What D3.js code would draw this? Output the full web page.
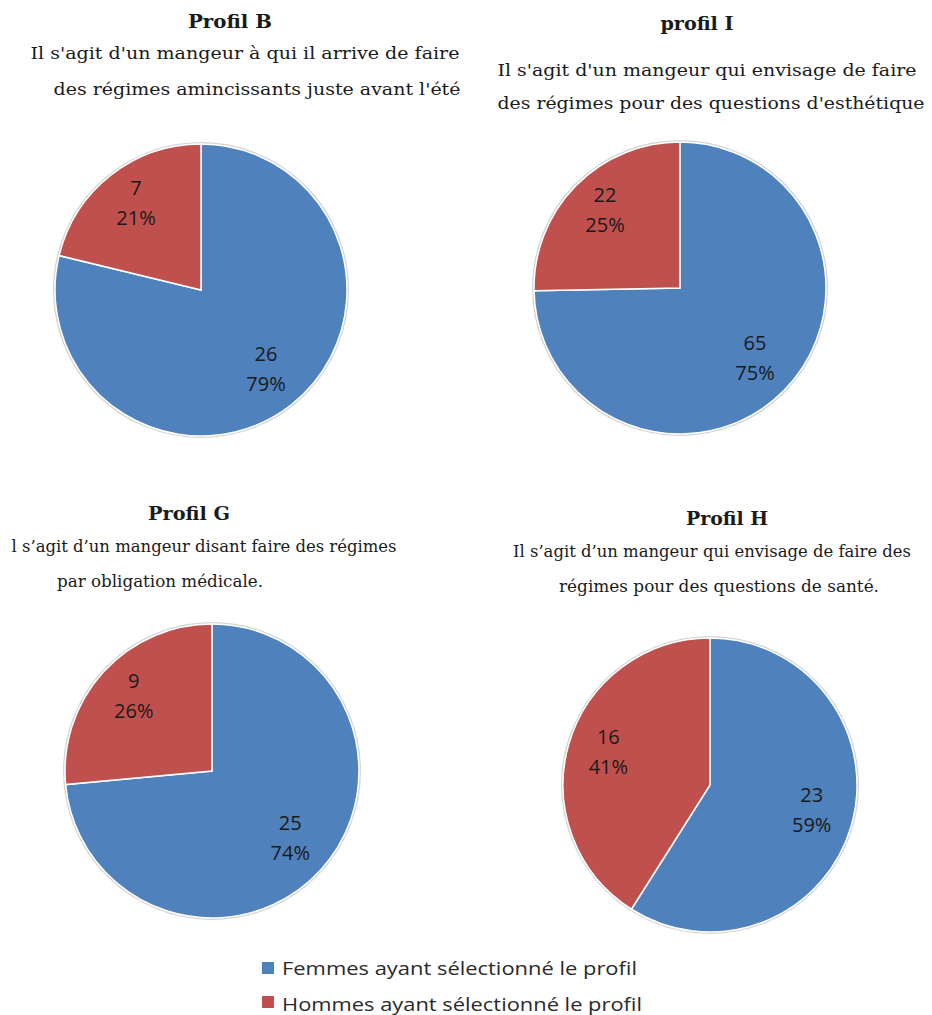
<!DOCTYPE html>
<html>
<head>
<meta charset="utf-8">
<script src="https://cdn.jsdelivr.net/npm/d3@7"></script>
<style>
  body { margin: 0; background: #fff; }
  .title { font-family: "DejaVu Serif", serif; font-weight: bold; fill: #1a1a1a; }
  .sub { font-family: "DejaVu Serif", serif; fill: #1a1a1a; }
  .subc { font-family: "DejaVu Serif Condensed", "DejaVu Serif", serif; fill: #1a1a1a; }
  .lbl { font-family: "Open Sans", sans-serif; font-size: 20px; fill: #1a1a1a; }
  .legText { font-family: "Open Sans", sans-serif; font-size: 18px; fill: #2a2a2a; }
</style>
</head>
<body>
<div id="chart"></div>
<script>
// data
var profiles = ["Profil B", "profil I", "Profil G", "Profil H"];
var subtitles = [
  ["Il s'agit d'un mangeur à qui il arrive de faire", "des régimes amincissants juste avant l'été"],
  ["Il s'agit d'un mangeur qui envisage de faire", "des régimes pour des questions d'esthétique"],
  ["l s\u2019agit d\u2019un mangeur disant faire des régimes", "par obligation médicale."],
  ["Il s\u2019agit d\u2019un mangeur qui envisage de faire des", "régimes pour des questions de santé."]
];
var femmes = [26, 65, 25, 23];
var hommes = [7, 22, 9, 16];
var seriesNames = ["Femmes ayant sélectionné le profil", "Hommes ayant sélectionné le profil"];
var colors = ["#4F81BD", "#C0504D"];

// layout (one entry per panel)
var layout = [
  { cx: 201, cy: 290, r: 146, cls: "sub", tx: 230, ty: 28, tw: 84,
    lines: [{ x: 245, y: 59, w: 429 }, { x: 257, y: 95, w: 407 }] },
  { cx: 680, cy: 288, r: 146, cls: "sub", tx: 697, ty: 30, tw: 73,
    lines: [{ x: 707, y: 76, w: 419 }, { x: 711, y: 109, w: 427 }] },
  { cx: 212, cy: 771, r: 147, cls: "subc", tx: 189, ty: 520, tw: 82,
    lines: [{ x: 204, y: 552, w: 385 }, { x: 160, y: 587, w: 206 }] },
  { cx: 710, cy: 785, r: 147, cls: "subc", tx: 727, ty: 525, tw: 82,
    lines: [{ x: 712, y: 557, w: 398 }, { x: 719, y: 592, w: 320 }] }
];

var width = 932, height = 1015;

var svg = d3.select("#chart").append("svg")
  .attr("width", width).attr("height", height);

var pie = d3.pie().sort(null).value(function(d) { return d; });
var pct = d3.format(".0%");

profiles.forEach(function(name, i) {
  var L = layout[i];
  var values = [femmes[i], hommes[i]];
  var total = d3.sum(values);

  svg.append("text").attr("class", "title")
    .attr("x", L.tx).attr("y", L.ty)
    .attr("text-anchor", "middle")
    .attr("font-size", 19)
    .attr("textLength", L.tw).attr("lengthAdjust", "spacingAndGlyphs")
    .text(name);

  subtitles[i].forEach(function(line, j) {
    svg.append("text").attr("class", L.cls)
      .attr("x", L.lines[j].x).attr("y", L.lines[j].y)
      .attr("text-anchor", "middle")
      .attr("font-size", 17)
      .attr("textLength", L.lines[j].w).attr("lengthAdjust", "spacingAndGlyphs")
      .text(line);
  });

  var g = svg.append("g").attr("transform", "translate(" + L.cx + "," + L.cy + ")");

  var arc = d3.arc().innerRadius(0).outerRadius(L.r);
  var labelArc = d3.arc().innerRadius(L.r * 0.72).outerRadius(L.r * 0.72);

  g.append("circle").attr("r", L.r + 1)
    .attr("fill", "none").attr("stroke", "#d4d4d4").attr("stroke-width", 2);

  var arcs = pie(values);

  g.selectAll("path").data(arcs).enter().append("path")
    .attr("d", arc)
    .attr("fill", function(d, k) { return colors[k]; })
    .attr("stroke", "#fff").attr("stroke-width", 1.5);

  var lab = g.selectAll("g.lab").data(arcs).enter().append("g")
    .attr("class", "lab")
    .attr("transform", function(d) { return "translate(" + labelArc.centroid(d) + ")"; });

  lab.append("text").attr("class", "lbl")
    .attr("text-anchor", "middle").attr("y", -12)
    .text(function(d) { return d.value; });

  lab.append("text").attr("class", "lbl")
    .attr("text-anchor", "middle").attr("y", 18)
    .text(function(d) { return pct(d.value / total); });
});

// legend
var legend = svg.append("g");
seriesNames.forEach(function(s, k) {
  legend.append("rect")
    .attr("x", 262).attr("y", 962 + k * 34)
    .attr("width", 12).attr("height", 12)
    .attr("fill", colors[k]);
  legend.append("text").attr("class", "legText")
    .attr("x", 282).attr("y", 975 + k * 36)
    .attr("textLength", k === 0 ? 355 : 360).attr("lengthAdjust", "spacingAndGlyphs")
    .text(s);
});
</script>
</body>
</html>
